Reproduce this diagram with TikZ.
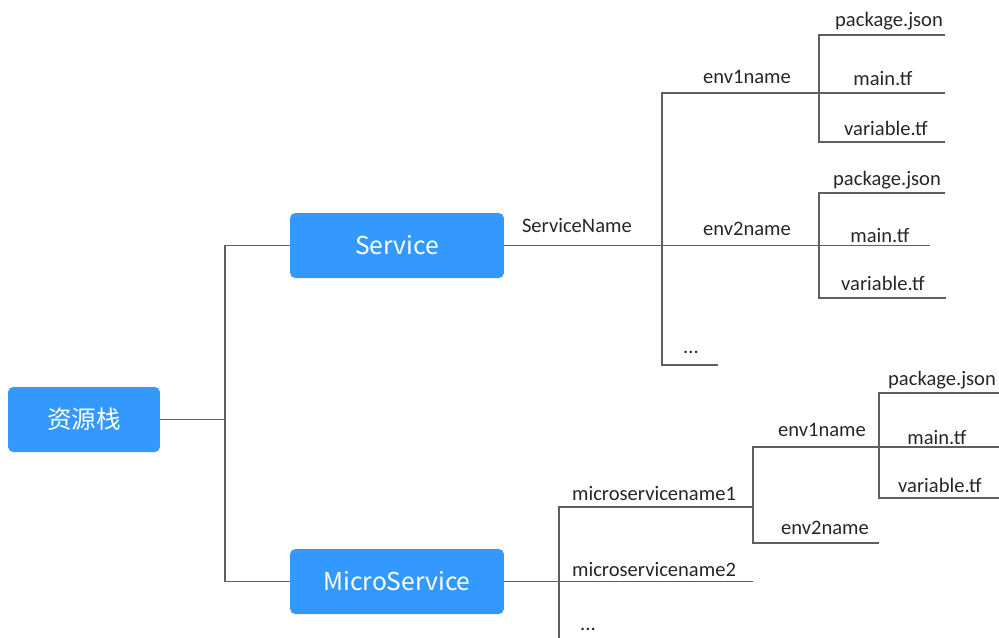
\documentclass[tikz,border=0pt]{standalone}
\usepackage{fontspec}
\setmainfont{Carlito}
\newfontfamily\cjk{Noto Sans CJK SC}
\usepackage{tikz}
\usetikzlibrary{positioning}
\definecolor{boxblue}{RGB}{51,153,255}
\definecolor{linegray}{RGB}{95,95,95}
\tikzset{
    box/.style={fill=boxblue, text=white, rounded corners=3pt, inner sep=0pt,
        minimum height=1.3cm, font=\cjk\fontsize{14}{16}\selectfont},
    link/.style={draw=linegray, line width=0.7pt},
    lbl/.style={inner sep=0pt, text=black!85, font=\fontsize{11.7}{14}\selectfont}
}
\begin{document}
\begin{tikzpicture}[x=0.02cm, y=-0.02cm]
\useasboundingbox (0,0) rectangle (999,637);
% boxes
\node[box, minimum width=3.04cm] (root) at (84,419.5) {资源栈};
\node[box, minimum width=4.28cm] (svc) at (397,245.5) {Service};
\node[box, minimum width=4.28cm] (msvc) at (397,581.5) {MicroService};
\coordinate (rootfork) at (225,419.5); % fork after root
\draw[link] (root.east) -- (rootfork);
\draw[link] (svc.west) -| (rootfork) |- (msvc.west); % both branches
% Service branch
\coordinate (svcfork) at (662,245.5);
\coordinate (env1end) at (819,93);
\coordinate (env2end) at (819,245.5);
\coordinate (dotsend) at (718,365);
\draw[link] (svc.east) -- (svcfork) node[lbl, pos=0.46, above=7pt] (svcname) {ServiceName};
\draw[link] (svcfork) |- (env1end);
\draw[link] (svcfork) -- (env2end);
\draw[link] (svcfork) |- (dotsend);
\node[lbl] (env1txt) at (747,77) {env1name};
\node[lbl] (env2txt) at (747,229) {env2name};
\node[lbl] (dotstxt) at (691,352) {...};
% env1name files
\coordinate (a1pkg) at (945,35);
\coordinate (a1main) at (945,93);
\coordinate (a1var) at (945,142);
\draw[link] (env1end) |- (a1pkg);
\draw[link] (env1end) -- (a1main);
\draw[link] (env1end) |- (a1var);
\node[lbl] (a1pkgtxt) at (889,21) {package.json};
\node[lbl] (a1maintxt) at (883,79) {main.tf};
\node[lbl] (a1vartxt) at (886,128) {variable.tf};
% env2name files
\coordinate (a2pkg) at (945,193);
\coordinate (a2main) at (930,245.5);
\coordinate (a2var) at (946,298);
\draw[link] (env2end) |- (a2pkg);
\draw[link] (env2end) -- (a2main);
\draw[link] (env2end) |- (a2var);
\node[lbl] (a2pkgtxt) at (887,180) {package.json};
\node[lbl] (a2maintxt) at (880,235) {main.tf};
\node[lbl] (a2vartxt) at (883,283) {variable.tf};
% MicroService branch
\coordinate (msfork) at (559,581.5);
\coordinate (ms1end) at (753,507);
\coordinate (ms2end) at (753,581.5);
\coordinate (msdots) at (559,660);
\draw[link] (msvc.east) -- (msfork);
\draw[link] (msfork) -- (ms2end);
\draw[link] (msfork) |- (ms1end);
\draw[link] (msfork) -- (msdots);
\node[lbl] (ms1txt) at (654,493) {microservicename1};
\node[lbl] (ms2txt) at (654,569) {microservicename2};
\node[lbl] (msdotstxt) at (588,629) {...};
% microservicename1 envs
\coordinate (menv1end) at (879,447);
\coordinate (menv2end) at (879,543);
\draw[link] (ms1end) |- (menv1end);
\draw[link] (ms1end) |- (menv2end);
\node[lbl] (menv1txt) at (822,430) {env1name};
\node[lbl] (menv2txt) at (825,528) {env2name};
% env1name files
\coordinate (b1pkg) at (1000,393);
\coordinate (b1main) at (1000,447);
\coordinate (b1var) at (1000,498);
\draw[link] (menv1end) |- (b1pkg);
\draw[link] (menv1end) -- (b1main);
\draw[link] (menv1end) |- (b1var);
\node[lbl] (b1pkgtxt) at (942,380) {package.json};
\node[lbl] (b1maintxt) at (937,437) {main.tf};
\node[lbl] (b1vartxt) at (940,485) {variable.tf};
\end{tikzpicture}
\end{document}
